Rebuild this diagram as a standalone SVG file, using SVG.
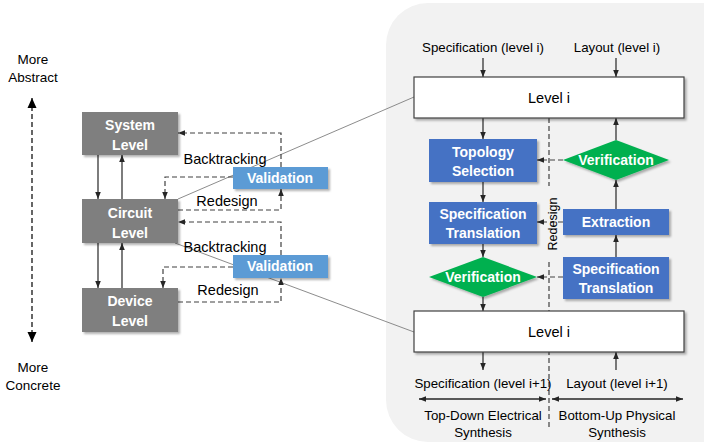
<svg xmlns="http://www.w3.org/2000/svg" width="704" height="444" viewBox="0 0 704 444">
<defs>
<marker id="ah" markerUnits="userSpaceOnUse" markerWidth="7" markerHeight="7" viewBox="0 0 10 10" refX="10" refY="5" orient="auto">
<path d="M0,1 L10,5 L0,9 Z" fill="#262626"/>
</marker>
<marker id="ahBig" markerUnits="userSpaceOnUse" markerWidth="10" markerHeight="10" viewBox="0 0 10 10" refX="10" refY="5" orient="auto-start-reverse">
<path d="M0,0.5 L10,5 L0,9.5 Z" fill="#000"/>
</marker>
<filter id="sh" x="-10%" y="-10%" width="130%" height="140%">
<feDropShadow dx="2" dy="2" stdDeviation="1.2" flood-color="#000" flood-opacity="0.3"/>
</filter>
<style>
.t{font-family:"Liberation Sans",Arial,sans-serif;fill:#000;font-size:13.3px;text-anchor:middle}
.tl{font-family:"Liberation Sans",Arial,sans-serif;fill:#000;font-size:14.5px;text-anchor:middle}
.w{font-family:"Liberation Sans",Arial,sans-serif;fill:#fff;font-size:14px;font-weight:bold;text-anchor:middle}
.gray{fill:#7f7f7f;filter:url(#sh)}
.val{fill:#5b9bd5;filter:url(#sh)}
.blue{fill:#4472c4;filter:url(#sh)}
.grn{fill:#00b050;filter:url(#sh)}
.lvl{fill:#fff;stroke:#404040;stroke-width:1.2;filter:url(#sh)}
.s{fill:none;stroke:#262626;stroke-width:1.2;marker-end:url(#ah)}
.s2{fill:none;stroke:#262626;stroke-width:1.2;marker-end:url(#ah);marker-start:url(#ah)}
.d{fill:none;stroke:#404040;stroke-width:1.2;stroke-dasharray:5,3}
.da{fill:none;stroke:#404040;stroke-width:1.2;stroke-dasharray:5,3;marker-end:url(#ah)}
.g{fill:none;stroke:#7f7f7f;stroke-width:0.9}
</style>
</defs>
<rect width="704" height="444" fill="#fff"/>
<rect id="panel" x="386" y="3" width="360" height="439" rx="42" ry="42" fill="#f2f2f2"/>

<g id="connectors">
<line class="g" x1="178" y1="199" x2="414" y2="97"/>
<line class="g" x1="175" y1="243" x2="414" y2="332"/>
<line x1="32" y1="98" x2="32" y2="342" stroke="#000" stroke-width="1.2" stroke-dasharray="5,3" marker-start="url(#ahBig)" marker-end="url(#ahBig)"/>
<line class="s" x1="98" y1="155" x2="98" y2="199"/>
<line class="s" x1="122" y1="199" x2="122" y2="155"/>
<line class="s" x1="98" y1="243" x2="98" y2="288"/>
<line class="s" x1="122" y1="288" x2="122" y2="243"/>
<polyline class="da" points="281,167 281,133 178,133"/>
<polyline class="da" points="233,177 165,177 165,199"/>
<polyline class="da" points="178,210 281,210 281,189"/>
<polyline class="da" points="281,255 281,222 178,222"/>
<polyline class="da" points="233,267 163,267 163,288"/>
<polyline class="da" points="178,302 281,302 281,278"/>
<line class="d" x1="549" y1="118" x2="549" y2="186"/>
<line class="d" x1="549" y1="262" x2="549" y2="429"/>
<line class="s" x1="483" y1="58" x2="483" y2="77"/>
<line class="s" x1="616" y1="58" x2="616" y2="77"/>
<line class="s" x1="483" y1="118" x2="483" y2="139"/>
<line class="s" x1="616" y1="140" x2="616" y2="118"/>
<line class="s" x1="483" y1="182" x2="483" y2="202"/>
<line class="s" x1="616" y1="209" x2="616" y2="180"/>
<line class="s" x1="483" y1="244" x2="483" y2="257"/>
<line class="s" x1="616" y1="257" x2="616" y2="235"/>
<line class="s" x1="483" y1="297" x2="483" y2="311"/>
<line class="s" x1="616" y1="370" x2="616" y2="352"/>
<line class="s" x1="483" y1="352" x2="483" y2="370"/>
<line class="da" x1="563" y1="160" x2="537" y2="160"/>
<line class="da" x1="563" y1="222" x2="537" y2="222"/>
<line class="da" x1="563" y1="277" x2="537" y2="277"/>
<path class="s2" d="M419,399 L546,399" style="marker-start:none"/>
<path class="s" d="M546,399 L419,399"/>
<path class="s" d="M552,399 L683,399"/>
<path class="s" d="M683,399 L552,399"/>
</g>

<text class="tl" x="33" y="64" style="font-size:13.5px">More</text>
<text class="tl" x="33" y="82" style="font-size:13.5px">Abstract</text>
<text class="tl" x="33" y="372" style="font-size:13.5px">More</text>
<text class="tl" x="33" y="390" style="font-size:13.5px">Concrete</text>
<text class="tl" x="225" y="164">Backtracking</text>
<text class="tl" x="227" y="206">Redesign</text>
<text class="tl" x="225" y="252">Backtracking</text>
<text class="tl" x="228" y="295">Redesign</text>

<g id="system">
<rect class="gray" x="82" y="112" width="96" height="43"/>
<text class="w" x="130" y="130">System</text>
<text class="w" x="130" y="150">Level</text>
</g>
<g id="circuit">
<rect class="gray" x="82" y="199" width="96" height="44"/>
<text class="w" x="130" y="218">Circuit</text>
<text class="w" x="130" y="238">Level</text>
</g>
<g id="device">
<rect class="gray" x="82" y="288" width="96" height="44"/>
<text class="w" x="130" y="306">Device</text>
<text class="w" x="130" y="326">Level</text>
</g>
<g id="validation1">
<rect class="val" x="233" y="167" width="95" height="22"/>
<text class="w" x="280" y="183">Validation</text>
</g>
<g id="validation2">
<rect class="val" x="233" y="255" width="95" height="23"/>
<text class="w" x="280" y="271">Validation</text>
</g>

<text class="t" x="483" y="52">Specification (level i)</text>
<text class="t" x="617" y="52">Layout (level i)</text>
<text class="t" x="483" y="388">Specification (level i+1)</text>
<text class="t" x="617" y="388">Layout (level i+1)</text>
<text class="t" x="483" y="420">Top-Down Electrical</text>
<text class="t" x="483" y="437">Synthesis</text>
<text class="t" x="617" y="420">Bottom-Up Physical</text>
<text class="t" x="617" y="437">Synthesis</text>
<text class="t" x="0" y="0" transform="translate(557,224) rotate(-90)" style="font-size:12.5px">Redesign</text>

<g id="leveli-top">
<rect class="lvl" x="414" y="77" width="270" height="41"/>
<text class="tl" x="549" y="103">Level i</text>
</g>
<g id="topology">
<rect class="blue" x="429" y="139" width="108" height="43"/>
<text class="w" x="483" y="157">Topology</text>
<text class="w" x="483" y="176">Selection</text>
</g>
<g id="verif-right">
<polygon class="grn" points="563,160 616,140 669,160 616,180"/>
<text class="w" x="616" y="165">Verification</text>
</g>
<g id="spectrans-left">
<rect class="blue" x="429" y="202" width="108" height="42"/>
<text class="w" x="483" y="219">Specification</text>
<text class="w" x="483" y="238">Translation</text>
</g>
<g id="extraction">
<rect class="blue" x="563" y="209" width="106" height="26"/>
<text class="w" x="616" y="227">Extraction</text>
</g>
<g id="verif-left">
<polygon class="grn" points="429,277 483,257 537,277 483,297"/>
<text class="w" x="483" y="282">Verification</text>
</g>
<g id="spectrans-right">
<rect class="blue" x="563" y="257" width="106" height="42"/>
<text class="w" x="616" y="274">Specification</text>
<text class="w" x="616" y="293">Translation</text>
</g>
<g id="leveli-bottom">
<rect class="lvl" x="414" y="311" width="270" height="41"/>
<text class="tl" x="549" y="337">Level i</text>
</g>
</svg>
